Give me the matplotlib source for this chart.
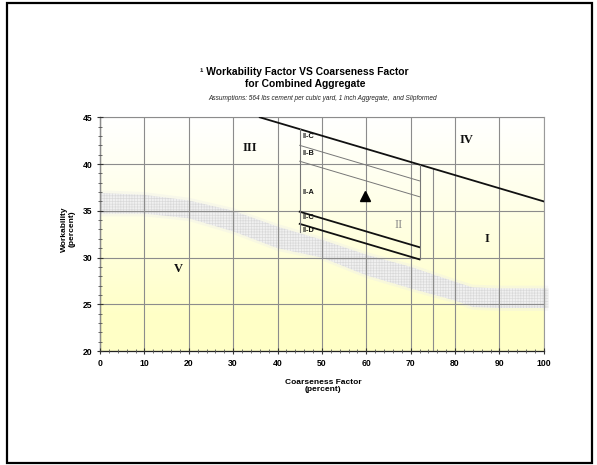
import numpy as np
import matplotlib
matplotlib.use("Agg")
import matplotlib.pyplot as plt
from matplotlib.patches import Rectangle

plt.rcParams["hatch.linewidth"] = 0.45

# ---------------- data ----------------
x_ticks = [0, 10, 20, 30, 40, 50, 60, 70, 80, 90, 100]
y_ticks = [20, 25, 30, 35, 40, 45]

# trend band (gray hatched)
band_x = [0, 10, 20, 30, 40, 50, 60, 70, 80, 84, 90, 101]
band_top = [36.9, 36.7, 36.1, 35.0, 33.3, 31.9, 30.3, 29.0, 27.4, 26.8, 26.7, 26.7]
band_bottom = [34.7, 34.7, 34.2, 32.8, 31.0, 30.0, 28.1, 26.7, 25.4, 24.7, 24.6, 24.6]

# upper boundary line (zone IV)
main_x = [36, 100]
main_y = [45, 36]

# zone II sub-division lines
zone_x = [45, 72]
line_CB_y = [42.0, 38.2]
line_BA_y = [40.3, 36.5]
line_AC_y = [34.9, 31.1]
line_CD_y = [33.6, 29.8]

# zone II box verticals
box_left_x = [45, 45]
box_left_y = [43.7, 32.7]
box_right_x = [72, 72]
box_right_y = [39.9, 29.8]
split_x = [75, 75]
split_y = [39.5, 20]

# target point
point_x = [59.7]
point_y = [36.6]

# zone labels
zone_labels = ["III", "IV", "II", "I", "V"]
zone_lx = [33.7, 82.6, 67.4, 87.1, 17.6]
zone_ly = [41.7, 42.6, 33.5, 32.0, 28.8]

sub_labels = ["II-C", "II-B", "II-A", "II-C", "II-D"]
sub_lx = [45.6, 45.6, 45.6, 45.6, 45.6]
sub_ly = [42.9, 41.1, 37.0, 34.3, 32.9]

# ---------------- figure ----------------
W, H = 597, 465
fig = plt.figure(figsize=(W / 100, H / 100), dpi=100)
fig.patch.set_facecolor("white")

# outer frame
fig.add_artist(Rectangle((7 / W, 1 - 463 / H), 585 / W, 460 / H,
                         transform=fig.transFigure, fill=False,
                         edgecolor="black", linewidth=1.6))

ax = fig.add_axes([100 / W, 1 - 351 / H, 443.8 / W, 233.7 / H])
ax.set_xlim(0, 100)
ax.set_ylim(20, 45)

# background gradient (white top -> pale yellow bottom)
yy = np.linspace(20, 45, 300)
t = np.clip((yy - 24) / (45 - 24), 0, 1) ** 0.9
yellow = np.array([1.0, 1.0, 0.78])
white = np.array([1.0, 1.0, 1.0])
img = (yellow[None, :] * (1 - t[:, None]) + white[None, :] * t[:, None])[:, None, :]
ax.imshow(img, extent=[0, 100, 20, 45], origin="lower", aspect="auto",
          zorder=0, interpolation="bilinear")

# band: soft halo + hatched core
bt = np.array(band_top)
bb = np.array(band_bottom)
ax.fill_between(band_x, bb - 0.3, bt + 0.3, facecolor="#ececec", alpha=0.35,
                linewidth=0, zorder=1, clip_on=False)
ax.fill_between(band_x, bb, bt, facecolor="#f0f0f0", edgecolor="#d9d9d9",
                hatch="++++++", linewidth=0, zorder=1.1, clip_on=False)

# grid
ax.set_axisbelow(False)
ax.grid(which="major", color="#8c8c8c", linewidth=0.8, zorder=1.5)
ax.set_xticks(x_ticks)
ax.set_yticks(y_ticks)
ax.set_xticks(np.arange(0, 101, 2), minor=True)
ax.set_yticks(np.arange(20, 46, 1), minor=True)
for gl in ax.get_xgridlines():
    gl.set_zorder(1.5)
for gl in ax.get_ygridlines():
    gl.set_zorder(1.5)

# lines
ax.plot(main_x, main_y, color="#111111", linewidth=1.3, zorder=3)
ax.plot(zone_x, line_CB_y, color="#777777", linewidth=0.7, zorder=3)
ax.plot(zone_x, line_BA_y, color="#777777", linewidth=0.7, zorder=3)
ax.plot(zone_x, line_AC_y, color="#111111", linewidth=1.3, zorder=3)
ax.plot(zone_x, line_CD_y, color="#111111", linewidth=1.3, zorder=3)
ax.plot(box_left_x, box_left_y, color="#777777", linewidth=0.8, zorder=3)
ax.plot(box_right_x, box_right_y, color="#777777", linewidth=0.8, zorder=3)
ax.plot(split_x, split_y, color="#8c8c8c", linewidth=0.8, zorder=1.5)

ax.plot(point_x, point_y, marker="^", color="black", markersize=6.5,
        linestyle="none", zorder=4)

# zone labels
for lab, lx, ly in zip(zone_labels, zone_lx, zone_ly):
    col = "#8a8a8a" if lab == "II" else "#111111"
    wt = "normal" if lab == "II" else "bold"
    ax.text(lx, ly, lab, family="Liberation Serif", fontsize=9, fontweight=wt,
            color=col, ha="center", va="center", zorder=5)

for lab, lx, ly in zip(sub_labels, sub_lx, sub_ly):
    ax.text(lx, ly, lab, family="Liberation Sans", fontsize=5.3,
            fontweight="bold", color="#111111", ha="left", va="center", zorder=5)

# spines and ticks
for s in ["left", "bottom"]:
    ax.spines[s].set_color("#222222")
    ax.spines[s].set_linewidth(0.9)
for s in ["top", "right"]:
    ax.spines[s].set_color("#9a9a9a")
    ax.spines[s].set_linewidth(0.8)

ax.tick_params(which="major", direction="inout", length=5, width=0.8,
               color="#333333", labelsize=6.2, pad=3)
ax.tick_params(which="minor", direction="inout", length=3, width=0.6,
               color="#555555")
ax.tick_params(axis="x", which="both", top=False)
ax.tick_params(axis="y", which="both", right=False)
for lbl in ax.get_xticklabels() + ax.get_yticklabels():
    lbl.set_fontweight("bold")
    lbl.set_family("Liberation Sans")

# axis labels
fig.text(68 / W, 1 - 229 / H, "Workability\n(percent)", rotation=90,
         ha="center", va="center", fontsize=6, fontweight="bold",
         family="Liberation Sans", linespacing=1.1)
fig.text(323 / W, 1 - 386 / H, "Coarseness Factor\n(percent)",
         ha="center", va="center", fontsize=6, fontweight="bold",
         family="Liberation Sans", linespacing=1.15)

# titles
fig.text(304 / W, 1 - 72 / H, "¹ Workability Factor VS Coarseness Factor",
         ha="center", va="center", fontsize=7.4, fontweight="bold",
         family="Liberation Sans")
fig.text(305 / W, 1 - 84 / H, "for Combined Aggregate",
         ha="center", va="center", fontsize=7.4, fontweight="bold",
         family="Liberation Sans")
fig.text(323 / W, 1 - 98.5 / H,
         "Assumptions: 564 lbs cement per cubic yard, 1 inch Aggregate,  and Slipformed",
         ha="center", va="center", fontsize=4.7, style="italic",
         family="Liberation Sans", color="#222222")

fig.savefig("out.png", dpi=100)
